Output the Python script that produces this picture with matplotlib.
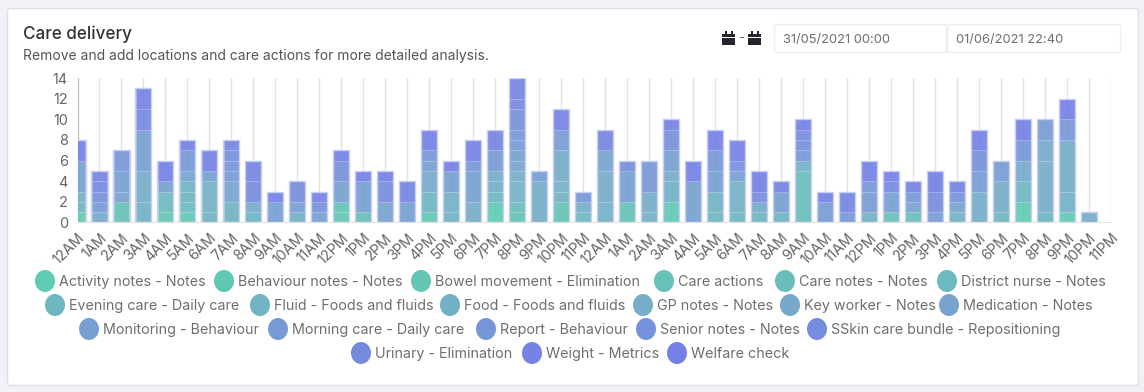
import numpy as np
import matplotlib
matplotlib.use("Agg")
import matplotlib.pyplot as plt
from matplotlib.colors import LinearSegmentedColormap, to_rgb
from matplotlib.patches import FancyBboxPatch, Rectangle, Ellipse

plt.rcParams['font.family'] = ['Inter', 'DejaVu Sans']

hours = ["12AM", "1AM", "2AM", "3AM", "4AM", "5AM", "6AM", "7AM", "8AM", "9AM", "10AM", "11AM",
         "12PM", "1PM", "2PM", "3PM", "4PM", "5PM", "6PM", "7PM", "8PM", "9PM", "10PM", "11PM"]
labels = hours + hours
yticks = [0, 2, 4, 6, 8, 10, 12, 14]

activity_notes = [1,0,0,0,0,0,0,0,0,0,0,0, 0,0,0,0,0,0,0,2,0,0,0,0, 0,0,0,0,0,0,0,0,0,0,0,0, 0,0,0,0,0,0,0,2,0,1,0,0]
behaviour_notes = [0,0,0,0,1,1,0,0,0,0,0,0, 1,0,0,0,1,0,0,0,0,0,0,0, 0,0,0,2,0,0,0,0,0,0,0,0, 0,0,0,0,0,0,0,0,0,0,0,0]
bowel_movement = [0,0,0,0,0,0,0,0,0,0,0,0, 1,0,0,0,0,0,0,0,1,0,2,0, 0,2,0,0,0,0,0,0,0,0,0,0, 0,0,0,0,0,0,0,0,0,0,0,0]
care_actions = [0,0,2,0,0,0,0,0,0,0,0,0, 0,0,0,0,0,0,0,0,0,0,0,0, 0,0,0,0,0,0,0,0,0,0,0,0, 0,1,0,0,0,0,0,0,0,0,0,0]
care_notes = [0,0,0,0,0,0,0,0,0,0,0,0, 0,1,0,0,0,0,0,0,1,0,0,0, 0,0,0,0,0,0,0,0,0,5,0,0, 0,0,1,0,0,0,0,0,0,0,0,0]
district_nurse = [0,0,0,0,2,1,0,0,0,0,0,0, 0,0,0,0,0,0,0,0,0,0,0,1, 0,0,0,0,0,1,0,0,0,0,0,0, 0,0,0,0,0,0,0,0,0,0,0,0]
evening_care = [0,0,0,0,0,1,0,0,1,0,0,0, 0,0,0,0,2,0,0,1,0,0,0,0, 0,0,0,0,0,0,1,1,1,0,0,0, 0,0,0,0,0,0,1,2,1,0,0,0]
fluid = [1,0,0,0,0,1,1,2,0,0,0,0, 0,0,0,0,0,1,0,0,0,0,1,0, 0,0,0,0,0,2,0,0,0,0,0,0, 1,0,0,0,1,0,0,0,0,0,0,0]
food = [1,0,0,2,0,0,3,0,0,0,1,0, 0,0,0,0,0,2,0,1,2,0,1,0, 2,0,1,2,0,0,3,0,0,1,0,0, 0,0,0,0,0,0,0,0,0,2,0,0]
gp_notes = [0,0,0,3,0,0,0,0,1,0,0,0, 0,0,0,0,0,0,2,1,1,4,3,1, 3,0,2,1,0,0,0,0,0,0,0,0, 0,0,0,0,0,3,3,0,5,5,1,0]
key_worker = [0,1,0,0,0,0,0,0,0,0,0,0, 0,0,0,0,2,0,0,0,0,0,0,0, 0,0,0,0,0,0,0,1,0,0,0,0, 0,0,0,0,0,0,0,2,2,0,0,0]
medication = [0,0,1,0,0,1,0,2,0,0,0,0, 0,0,2,0,0,0,0,0,1,0,0,0, 2,0,0,0,0,0,0,0,0,0,0,0, 0,0,1,0,1,0,0,0,0,0,0,0]
monitoring = [3,0,2,4,1,0,1,0,0,2,1,1, 2,3,0,2,1,2,3,0,1,0,0,0, 0,3,0,2,4,2,1,0,2,0,0,0, 0,2,0,0,0,0,0,0,0,0,0,0]
morning_care = [0,1,0,0,0,0,0,1,0,0,0,0, 0,0,0,0,0,0,0,2,1,1,2,0, 0,0,0,0,0,0,0,0,0,0,2,0, 2,0,0,1,0,2,2,0,2,0,0,0]
report = [0,0,2,0,0,2,0,1,0,0,0,0, 0,0,0,0,1,0,1,0,1,0,0,1, 0,0,3,0,0,2,0,0,0,1,0,1, 1,0,1,0,0,0,0,2,0,2,0,0]
senior_notes = [0,1,0,0,0,0,0,1,0,0,0,1, 2,0,0,0,0,0,0,0,2,0,0,0, 0,0,0,2,0,0,1,0,0,1,0,0, 0,0,0,0,1,2,0,0,0,0,0,0]
sskin_bundle = [0,0,0,0,0,0,0,0,2,0,2,0, 0,0,2,0,0,0,0,0,0,0,0,0, 0,1,0,0,0,0,0,1,0,1,0,0, 0,0,0,2,0,0,0,0,0,0,0,0]
urinary = [0,1,0,2,0,0,0,0,0,0,0,0, 0,0,0,0,0,0,0,0,1,0,0,0, 0,0,0,0,0,0,0,0,0,0,0,0, 0,1,0,0,0,0,0,0,0,0,0,0]
weight = [0,1,0,2,0,0,0,1,2,0,0,0, 0,0,0,2,0,0,0,2,2,0,2,0, 2,0,0,0,0,0,0,0,0,0,0,2, 0,0,0,0,0,0,0,0,0,0,0,0]
welfare_check = [2,0,0,0,2,1,2,0,0,1,0,1, 1,1,1,0,2,1,2,0,0,0,0,0, 0,0,0,1,2,2,2,2,1,1,1,0, 2,1,1,2,1,2,0,2,0,2,0,0]

series = [activity_notes, behaviour_notes, bowel_movement, care_actions, care_notes, district_nurse,
          evening_care, fluid, food, gp_notes, key_worker, medication, monitoring, morning_care,
          report, senior_notes, sskin_bundle, urinary, weight, welfare_check]
names = ["Activity notes - Notes", "Behaviour notes - Notes", "Bowel movement - Elimination",
         "Care actions", "Care notes - Notes", "District nurse - Notes",
         "Evening care - Daily care", "Fluid - Foods and fluids", "Food - Foods and fluids",
         "GP notes - Notes", "Key worker - Notes", "Medication - Notes",
         "Monitoring - Behaviour", "Morning care - Daily care", "Report - Behaviour",
         "Senior notes - Notes", "SSkin care bundle - Repositioning",
         "Urinary - Elimination", "Weight - Metrics", "Welfare check"]

# legend key centres in pixels, row by row
legend_x = [45, 224, 421, 664, 785, 947,
            55, 260, 450, 643, 790, 949,
            89, 278, 486, 646, 817,
            361, 532, 677]
legend_y = [281] * 6 + [305] * 6 + [329] * 5 + [353] * 3

W, H = 1144, 392
cmap = LinearSegmentedColormap.from_list("care", ["#5FCBB1", "#77ABCA", "#7580E5"])
colors = [cmap(i / (len(series) - 1)) for i in range(len(series))]

fig = plt.figure(figsize=(W / 100, H / 100), dpi=100, facecolor="#F0F2F8")

# page layer, works in pixels of the screenshot
bg = fig.add_axes([0, 0, 1, 1], zorder=0)
bg.set_xlim(0, W)
bg.set_ylim(H, 0)
bg.axis("off")
bg.add_patch(FancyBboxPatch((7.5, 8.5), 1131, 377, boxstyle="round,pad=0,rounding_size=3",
                            fc="white", ec="#DDDFE6", lw=1))
bg.text(23, 34, "Care delivery", fontsize=12.3, color="#333333", va="center", fontweight="medium")
bg.text(23, 56, "Remove and add locations and care actions for more detailed analysis.",
        fontsize=10, color="#555555", va="center")

for x0, x1, txt in [(774, 947, "31/05/2021 00:00"), (947, 1121, "01/06/2021 22:40")]:
    bg.add_patch(FancyBboxPatch((x0 + .5, 24.5), x1 - x0 - 1, 28, boxstyle="round,pad=0,rounding_size=2",
                                fc="white", ec="#EEEEEE", lw=1))
    bg.text(x0 + 9, 40, txt, fontsize=9.3, color="#6E6E6E", va="center")

# little calendar icons either side of the dash
for cx in [722, 748]:
    bg.add_patch(Rectangle((cx, 34), 13, 11, fc="#23262F", ec="none"))
    bg.add_patch(Rectangle((cx + 2.5, 31), 2, 4, fc="#23262F", ec="none"))
    bg.add_patch(Rectangle((cx + 8.5, 31), 2, 4, fc="#23262F", ec="none"))
    bg.add_patch(Rectangle((cx, 36.5), 13, 1, fc="white", ec="none"))
bg.text(741.5, 38, "-", fontsize=9.5, color="#666666", ha="center", va="center")

for name, c, lx, ly in zip(names, colors, legend_x, legend_y):
    bg.add_patch(Ellipse((lx, ly), 20, 22, fc=c, ec="none"))
    bg.text(lx + 14, ly + 1, name, fontsize=10.3, color="#6E6E6E", va="center")

# chart
ax = fig.add_axes([77.5 / W, 1 - 222.5 / H, (1111 - 77.5) / W, (222.5 - 78) / H], zorder=1)
ax.patch.set_alpha(0)
x = np.arange(len(labels))
bottom = np.zeros(len(labels))
for vals, c in zip(series, colors):
    vals = np.array(vals)
    m = vals > 0
    rgb = np.array(to_rgb(c))
    edge = tuple(rgb * 0.65 + 0.35)
    ax.bar(x[m], vals[m], width=0.72, bottom=bottom[m], color=(*rgb, 0.92), edgecolor=edge,
           linewidth=0.7, zorder=3)
    bottom += vals
# pale outline round each whole stack
m = bottom > 0
ax.bar(x[m], bottom[m], width=0.73, fill=False, edgecolor="#C9CEF3", linewidth=1, zorder=4)

ax.set_xlim(0, 47)
ax.set_ylim(0, 14)
ax.set_yticks(yticks)
ax.set_xticks(x)
ax.set_xticklabels(labels, rotation=45, ha="right", rotation_mode="anchor")
ax.tick_params(axis="both", length=0, labelsize=10.4, labelcolor="#666666")
ax.tick_params(axis="x", pad=6)
ax.tick_params(axis="y", pad=7)
ax.grid(axis="x", color="#E3E3E3", linewidth=1, zorder=0)
ax.set_axisbelow(True)
for s in ["top", "right"]:
    ax.spines[s].set_visible(False)
ax.spines["left"].set_color("#BBBBBB")
ax.spines["bottom"].set_color("#E3E3E3")

fig.savefig("out.png", dpi=100, facecolor=fig.get_facecolor())
